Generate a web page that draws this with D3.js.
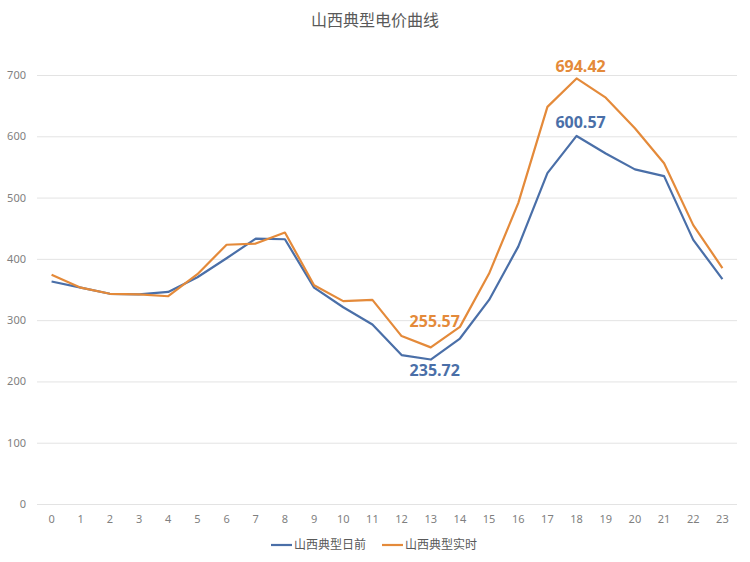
<!DOCTYPE html>
<html>
<head>
<meta charset="utf-8">
<title>山西典型电价曲线</title>
<script src="https://d3js.org/d3.v7.min.js"></script>
<style>
  body { margin: 0; background: #fff; }
  text { font-family: "Noto Sans CJK SC", "Noto Sans", sans-serif; }
</style>
</head>
<body>
<div id="chart"></div>
<script>
var width = 750;
var height = 562;
var margin = {top: 75, right: 13, bottom: 58, left: 37};

var title = "山西典型电价曲线";
var hours = ["0","1","2","3","4","5","6","7","8","9","10","11","12","13","14","15","16","17","18","19","20","21","22","23"];
var dayAhead = [363, 353, 343, 342, 346, 370, 401, 433, 432, 353, 321, 293, 243, 235.72, 270, 333, 420, 540, 600.57, 572, 546, 535, 431, 367];
var realTime = [374, 353, 343, 342, 339, 375, 423, 425, 443, 357, 331, 333, 274, 255.57, 289, 376, 491, 648, 694.42, 663, 613, 556, 455, 385];
var yTicks = [0, 100, 200, 300, 400, 500, 600, 700];

var series = [
    {name: "山西典型日前", values: dayAhead, color: "#4a6fa8"},
    {name: "山西典型实时", values: realTime, color: "#e48a3a"}
];

// value labels: series index, hour index, vertical offset from the point
var callouts = [
    {s: 1, i: 18, dy: -6},
    {s: 0, i: 18, dy: -8},
    {s: 1, i: 13, dy: -20},
    {s: 0, i: 13, dy: 16}
];

var svg = d3.select("#chart").append("svg")
    .attr("width", width)
    .attr("height", height);

var x = d3.scaleBand()
    .domain(hours)
    .range([margin.left, width - margin.right]);

var y = d3.scaleLinear()
    .domain([0, 700])
    .range([504, 75]);

function cx(h) { return x(h) + x.bandwidth() / 2; }

// title
svg.append("text")
    .attr("x", width / 2)
    .attr("y", 26)
    .attr("text-anchor", "middle")
    .attr("font-size", 16)
    .attr("fill", "#595959")
    .text(title);

// grid + y labels
var yAxis = svg.append("g")
    .attr("transform", "translate(" + margin.left + ",0)")
    .call(d3.axisLeft(y).tickValues(yTicks).tickSize(-(width - margin.left - margin.right)).tickPadding(11));
yAxis.select(".domain").remove();
yAxis.selectAll(".tick line").attr("stroke", "#e3e3e3").attr("stroke-width", 1);
yAxis.selectAll(".tick text").attr("fill", "#7f7f7f").attr("font-size", 11)
    .style("font-family", "'Noto Sans', sans-serif");

// x labels
var xAxis = svg.append("g")
    .attr("transform", "translate(0," + y(0) + ")")
    .call(d3.axisBottom(x).tickSize(0).tickPadding(11));
xAxis.select(".domain").remove();
xAxis.selectAll(".tick text").attr("fill", "#7f7f7f").attr("font-size", 11)
    .style("font-family", "'Noto Sans', sans-serif");

// lines
var line = d3.line()
    .x(function(d, i) { return cx(hours[i]); })
    .y(function(d) { return y(d); });

svg.selectAll(".series")
    .data(series)
    .enter().append("path")
    .attr("class", "series")
    .attr("fill", "none")
    .attr("stroke", function(d) { return d.color; })
    .attr("stroke-width", 2.2)
    .attr("stroke-linejoin", "round")
    .attr("d", function(d) { return line(d.values); });

// callout labels
svg.selectAll(".callout")
    .data(callouts)
    .enter().append("text")
    .attr("class", "callout")
    .attr("x", function(d) { return cx(hours[d.i]) + 4; })
    .attr("y", function(d) { return y(series[d.s].values[d.i]) + d.dy; })
    .attr("text-anchor", "middle")
    .attr("font-size", 16)
    .attr("font-weight", "bold")
    .attr("fill", function(d) { return series[d.s].color; })
    .style("font-family", "'Open Sans', sans-serif")
    .text(function(d) { return series[d.s].values[d.i].toFixed(2); });

// legend
var legend = svg.append("g").attr("transform", "translate(271,545)");
var items = legend.selectAll(".legend-item")
    .data(series)
    .enter().append("g")
    .attr("class", "legend-item")
    .attr("transform", function(d, i) { return "translate(" + (i * 111) + ",0)"; });
items.append("line")
    .attr("x1", 0).attr("x2", 21)
    .attr("stroke", function(d) { return d.color; })
    .attr("stroke-width", 2.2);
items.append("text")
    .attr("x", 23)
    .attr("y", 4)
    .attr("font-size", 12)
    .attr("fill", "#595959")
    .text(function(d) { return d.name; });
</script>
</body>
</html>
